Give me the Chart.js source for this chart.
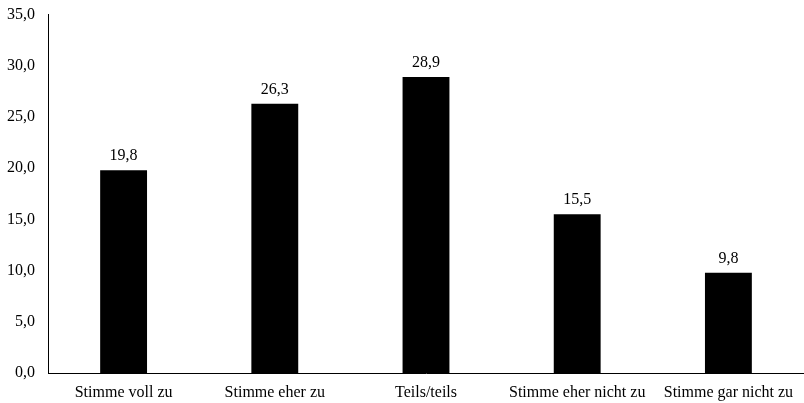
<!DOCTYPE html>
<html>
<head>
<meta charset="utf-8">
<script src="https://cdn.jsdelivr.net/npm/chart.js@4"></script>
<style>
  html, body { margin: 0; padding: 0; background: #fff; }
  #wrap { width: 804px; height: 403px; }
</style>
</head>
<body>
<div id="wrap"><canvas id="chart"></canvas></div>
<script>
const categories = [
  "Stimme voll zu",
  "Stimme eher zu",
  "Teils/teils",
  "Stimme eher nicht zu",
  "Stimme gar nicht zu",
];
const values = [19.8, 26.3, 28.9, 15.5, 9.8];
const yTicks = [0, 5, 10, 15, 20, 25, 30, 35];

const fmt = (v) => v.toFixed(1).replace(".", ",");
const serif = "'Liberation Serif', 'Times New Roman', serif";

// draws the value above each bar
const valueLabels = {
  id: "valueLabels",
  afterDatasetsDraw(chart) {
    const { ctx } = chart;
    const meta = chart.getDatasetMeta(0);
    ctx.save();
    ctx.font = `16px ${serif}`;
    ctx.fillStyle = "#000";
    ctx.textAlign = "center";
    ctx.textBaseline = "bottom";
    meta.data.forEach((bar, i) => {
      ctx.fillText(fmt(values[i]), bar.x, bar.y - 6);
    });
    ctx.restore();
  },
};

new Chart(document.getElementById("chart"), {
  type: "bar",
  data: {
    labels: categories,
    datasets: [
      {
        data: values,
        backgroundColor: "#000",
        barPercentage: 0.31,
        categoryPercentage: 1,
      },
    ],
  },
  options: {
    responsive: true,
    maintainAspectRatio: false,
    animation: false,
    layout: { padding: { top: 8, right: 0, left: 0, bottom: 0 } },
    plugins: {
      legend: { display: false },
      tooltip: { enabled: false },
    },
    scales: {
      x: {
        grid: { display: false },
        border: { display: true, color: "#000", width: 1 },
        ticks: {
          color: "#000",
          font: { family: serif, size: 16 },
          maxRotation: 0,
          padding: 2,
        },
        afterFit(scale) {
          scale.height = 30;
        },
      },
      y: {
        min: 0,
        max: 35,
        grid: { display: false },
        border: { display: true, color: "#000", width: 1 },
        afterBuildTicks(scale) {
          scale.ticks = yTicks.map((v) => ({ value: v }));
        },
        ticks: {
          color: "#000",
          font: { family: serif, size: 16 },
          padding: 5,
          callback: (v) => fmt(v),
        },
        afterFit(scale) {
          scale.width = 48;
        },
      },
    },
  },
  plugins: [valueLabels],
});
</script>
</body>
</html>
